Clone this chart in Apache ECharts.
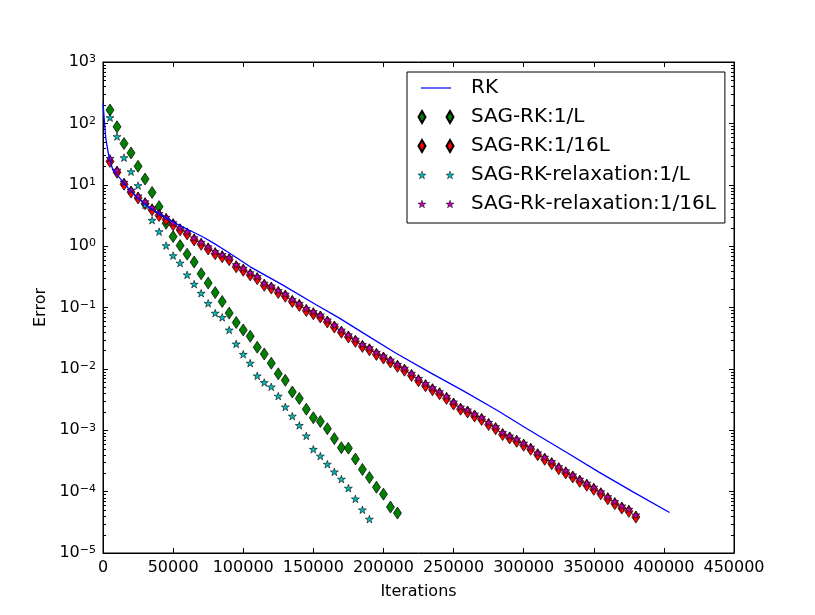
<!DOCTYPE html>
<html>
<head>
<meta charset="utf-8">
<script src="https://cdn.jsdelivr.net/npm/echarts@6/dist/echarts.min.js"></script>
<style>
  html, body { margin: 0; padding: 0; background: #fff; }
  #main { width: 815px; height: 615px; }
</style>
</head>
<body>
<div id="main"></div>
<script>
// iterations at which the SAG runs were sampled
var sagIter = [5000, 10000, 15000, 20000, 25000, 30000, 35000, 40000, 45000, 50000,
  55000, 60000, 65000, 70000, 75000, 80000, 85000, 90000, 95000, 100000,
  105000, 110000, 115000, 120000, 125000, 130000, 135000, 140000, 145000, 150000,
  155000, 160000, 165000, 170000, 175000, 180000, 185000, 190000, 195000, 200000,
  205000, 210000, 215000, 220000, 225000, 230000, 235000, 240000, 245000, 250000,
  255000, 260000, 265000, 270000, 275000, 280000, 285000, 290000, 295000, 300000,
  305000, 310000, 315000, 320000, 325000, 330000, 335000, 340000, 345000, 350000,
  355000, 360000, 365000, 370000, 375000, 380000];

// SAG-RK:1/L
var sagRk1 = [165, 88, 47, 33, 20, 12.4, 7.5, 4.4, 2.36, 1.43,
  1.02, 0.74, 0.55, 0.355, 0.25, 0.175, 0.125, 0.081, 0.057, 0.043,
  0.034, 0.0225, 0.0175, 0.0124, 0.0083, 0.0065, 0.0042, 0.0033, 0.0022, 0.0016,
  0.00139, 0.00106, 0.00073, 0.00052, 0.00051, 0.00034, 0.00023, 0.00017, 0.000118, 0.000091,
  0.000056, 0.0000447];

// SAG-RK:1/16L
var sagRk16 = [24, 16.0, 10.2, 7.6, 6.1, 4.9, 3.9, 3.15, 2.72, 2.23,
  1.84, 1.58, 1.26, 1.07, 0.90, 0.75, 0.67, 0.60, 0.46, 0.405,
  0.34, 0.295, 0.23, 0.207, 0.175, 0.153, 0.125, 0.108, 0.089, 0.079,
  0.070, 0.058, 0.048, 0.0396, 0.0331, 0.0281, 0.0232, 0.0204, 0.0172, 0.015,
  0.0129, 0.011, 0.0095, 0.0078, 0.0064, 0.0053, 0.00456, 0.00392, 0.0033, 0.00267,
  0.0022, 0.00198, 0.0017, 0.0015, 0.00124, 0.00106, 0.00085, 0.00075, 0.00066, 0.00057,
  0.00049, 0.0004, 0.000336, 0.000285, 0.000236, 0.000202, 0.000173, 0.000147, 0.000127, 0.000109,
  0.000092, 0.0000764, 0.0000635, 0.000054, 0.0000477, 0.0000385];

// SAG-RK-relaxation:1/L
var relax1 = [124, 61, 27.6, 16.3, 9.7, 4.7, 2.64, 1.72, 1.02, 0.70,
  0.53, 0.34, 0.24, 0.171, 0.117, 0.081, 0.069, 0.043, 0.0255, 0.0173,
  0.0124, 0.0077, 0.006, 0.0051, 0.0036, 0.0024, 0.0017, 0.0012, 0.00081, 0.00049,
  0.00038, 0.00028, 0.00021, 0.00016, 0.000114, 0.0000763, 0.0000506, 0.0000357];

// SAG-Rk-relaxation:1/16L
var relax16 = [27, 17.4, 11, 8.2, 6.6, 5.3, 4.24, 3.43, 2.96, 2.42,
  2.0, 1.72, 1.37, 1.16, 0.98, 0.82, 0.73, 0.65, 0.50, 0.44,
  0.37, 0.32, 0.25, 0.225, 0.19, 0.166, 0.136, 0.117, 0.097, 0.086,
  0.076, 0.063, 0.052, 0.043, 0.036, 0.0305, 0.0252, 0.0222, 0.0187, 0.0163,
  0.014, 0.0119, 0.0103, 0.0085, 0.0070, 0.0058, 0.00496, 0.00426, 0.0036, 0.0029,
  0.0024, 0.00215, 0.00185, 0.00163, 0.00135, 0.00115, 0.00092, 0.00081, 0.00072, 0.00062,
  0.00053, 0.00043, 0.000365, 0.00031, 0.000256, 0.00022, 0.000188, 0.00016, 0.000138, 0.000118,
  0.0001, 0.000083, 0.000069, 0.0000587, 0.0000519, 0.0000419];

// RK (plain line)
var rkIter = [0, 1000, 2000, 4000, 7000, 12000, 18000, 25000, 32000, 42000,
  54000, 66000, 72000, 78000, 89000, 105000, 128000, 152000, 168000, 186000,
  209000, 233000, 257000, 281000, 303000, 331000, 354000, 378000, 404000];
var rkErr = [214, 107, 57, 30.5, 17.4, 12.8, 8.8, 6.0, 4.4, 3.2,
  2.2, 1.62, 1.38, 1.15, 0.8, 0.46, 0.234, 0.111, 0.0685, 0.0379,
  0.018, 0.00877, 0.00439, 0.00212, 0.00104, 0.000429, 0.000206, 0.0000993, 0.0000457];

function pairs(xs, ys) {
  return ys.map(function (y, i) { return [xs[i], y]; });
}

var FONT = 'DejaVu Sans';
var STAR = 'path://M100 0 L122.34 69.26 L195.1 69.1 L136.14 111.74 L158.8 180.9 L100 138 L41.2 180.9 L63.86 111.74 L4.9 69.1 L77.66 69.26 Z';

// legend icons: two markers per entry like matplotlib, the zero-length bits pin the box to 48x12
var PIN = 'M0 0 L0 0 M48 12 L48 12 ';
var lineIcon = 'path://' + PIN + 'M3 5.4 L33 5.4 L33 6.6 L3 6.6 Z';
var diamondIcon = 'path://' + PIN + 'M4 0 L7.5 6 L4 12 L0.5 6 Z M32 0 L35.5 6 L32 12 L28.5 6 Z';
var starIcon = 'path://' + PIN +
  'M4 2.2 L4.94 5.11 L7.99 5.1 L5.52 6.89 L6.47 9.8 L4 8 L1.53 9.8 L2.48 6.89 L0.01 5.1 L3.06 5.11 Z ' +
  'M32 2.2 L32.94 5.11 L35.99 5.1 L33.52 6.89 L34.47 9.8 L32 8 L29.53 9.8 L30.48 6.89 L28.01 5.1 L31.06 5.11 Z';

var chart = echarts.init(document.getElementById('main'));

var tickStyle = { color: '#000', width: 1 };

var option = {
  animation: false,
  backgroundColor: '#fff',
  grid: {
    left: 103, right: 81, top: 62, bottom: 62,
    show: true, borderColor: '#000', borderWidth: 1
  },
  legend: {
    orient: 'vertical',
    left: 407, top: 72,
    padding: [6, 9, 9, 10],
    itemGap: 9,
    itemWidth: 48, itemHeight: 12,
    borderColor: '#000', borderWidth: 1, borderRadius: 0,
    backgroundColor: '#fff',
    textStyle: { fontSize: 20, fontFamily: FONT, color: '#000', lineHeight: 20 },
    data: [
      { name: 'RK', icon: lineIcon, itemStyle: { borderWidth: 0 } },
      { name: 'SAG-RK:1/L', icon: diamondIcon },
      { name: 'SAG-RK:1/16L', icon: diamondIcon },
      { name: 'SAG-RK-relaxation:1/L', icon: starIcon, itemStyle: { borderWidth: 0.5 } },
      { name: 'SAG-Rk-relaxation:1/16L', icon: starIcon, itemStyle: { borderWidth: 0.5 } }
    ]
  },
  xAxis: [{
    type: 'value', min: 0, max: 450000, interval: 50000,
    position: 'bottom',
    name: 'Iterations', nameLocation: 'middle', nameGap: 31,
    nameTextStyle: { fontSize: 16, fontFamily: FONT, color: '#000' },
    axisLine: { onZero: false, lineStyle: tickStyle },
    axisTick: { inside: true, length: 5, lineStyle: tickStyle },
    axisLabel: {
      color: '#000', fontSize: 16, fontFamily: FONT, margin: 7,
      formatter: function (v) { return String(v); }
    },
    splitLine: { show: false }
  }, {
    type: 'value', min: 0, max: 450000, interval: 50000,
    position: 'top',
    axisLine: { onZero: false, lineStyle: tickStyle },
    axisTick: { inside: true, length: 5, lineStyle: tickStyle },
    axisLabel: { show: false },
    splitLine: { show: false }
  }],
  yAxis: [{
    type: 'log', logBase: 10, min: 1e-5, max: 1e3, splitNumber: 8,
    position: 'left',
    name: 'Error', nameLocation: 'middle', nameGap: 45, nameRotate: 90,
    nameTextStyle: { fontSize: 16, fontFamily: FONT, color: '#000' },
    axisLine: { onZero: false, lineStyle: tickStyle },
    axisTick: { inside: true, length: 5, lineStyle: tickStyle },
    axisLabel: {
      margin: 7,
      formatter: function (v) {
        var e = Math.round(Math.log10(v));
        return '{b|10}{s|' + (e < 0 ? '\u2212' + (-e) : e) + '}';
      },
      rich: {
        b: { fontSize: 16, fontFamily: FONT, color: '#000', lineHeight: 16, verticalAlign: 'middle' },
        s: { fontSize: 11, fontFamily: FONT, color: '#000', lineHeight: 11, verticalAlign: 'top', padding: [0, 0, 14, 0] }
      }
    },
    splitLine: { show: false }
  }, {
    type: 'log', logBase: 10, min: 1e-5, max: 1e3, splitNumber: 8,
    position: 'right',
    axisLine: { onZero: false, lineStyle: tickStyle },
    axisTick: { inside: true, length: 5, lineStyle: tickStyle },
    axisLabel: { show: false },
    splitLine: { show: false }
  }],
  series: [{
    name: 'RK', type: 'line',
    data: pairs(rkIter, rkErr),
    symbol: 'none',
    color: '#0000ff',
    lineStyle: { color: '#0000ff', width: 1.3 }
  }, {
    name: 'SAG-RK:1/L', type: 'scatter',
    data: pairs(sagIter, sagRk1),
    symbol: 'diamond', symbolSize: [8, 12],
    itemStyle: { color: '#008000', borderColor: '#000', borderWidth: 0.7, opacity: 1 }
  }, {
    name: 'SAG-RK:1/16L', type: 'scatter',
    data: pairs(sagIter, sagRk16),
    symbol: 'diamond', symbolSize: [8, 12],
    itemStyle: { color: '#ff0000', borderColor: '#000', borderWidth: 0.7, opacity: 1 }
  }, {
    name: 'SAG-RK-relaxation:1/L', type: 'scatter',
    data: pairs(sagIter, relax1),
    symbol: STAR, symbolSize: 8, symbolKeepAspect: true,
    itemStyle: { color: '#00bfbf', borderColor: '#000', borderWidth: 0.6, opacity: 1 }
  }, {
    name: 'SAG-Rk-relaxation:1/16L', type: 'scatter',
    data: pairs(sagIter, relax16),
    symbol: STAR, symbolSize: 8, symbolKeepAspect: true,
    itemStyle: { color: '#bf00bf', borderColor: '#000', borderWidth: 0.6, opacity: 1 }
  }]
};

chart.setOption(option);

// matplotlib-style minor ticks (2..9 in every decade) on both log spines
var minorVals = [];
for (var e = -5; e < 3; e++) {
  for (var k = 2; k <= 9; k++) minorVals.push(k * Math.pow(10, e));
}
var xl = Math.round(chart.convertToPixel({ xAxisIndex: 0 }, 0));
var xr = Math.round(chart.convertToPixel({ xAxisIndex: 0 }, 450000));
var minorTicks = [];
minorVals.forEach(function (v) {
  var y = Math.round(chart.convertToPixel({ yAxisIndex: 0 }, v)) + 0.5;
  minorTicks.push({ type: 'line', silent: true, shape: { x1: xl, y1: y, x2: xl + 3, y2: y }, style: { stroke: '#000', lineWidth: 1 } });
  minorTicks.push({ type: 'line', silent: true, shape: { x1: xr - 3, y1: y, x2: xr, y2: y }, style: { stroke: '#000', lineWidth: 1 } });
});
chart.setOption({ graphic: minorTicks });
</script>
</body>
</html>
